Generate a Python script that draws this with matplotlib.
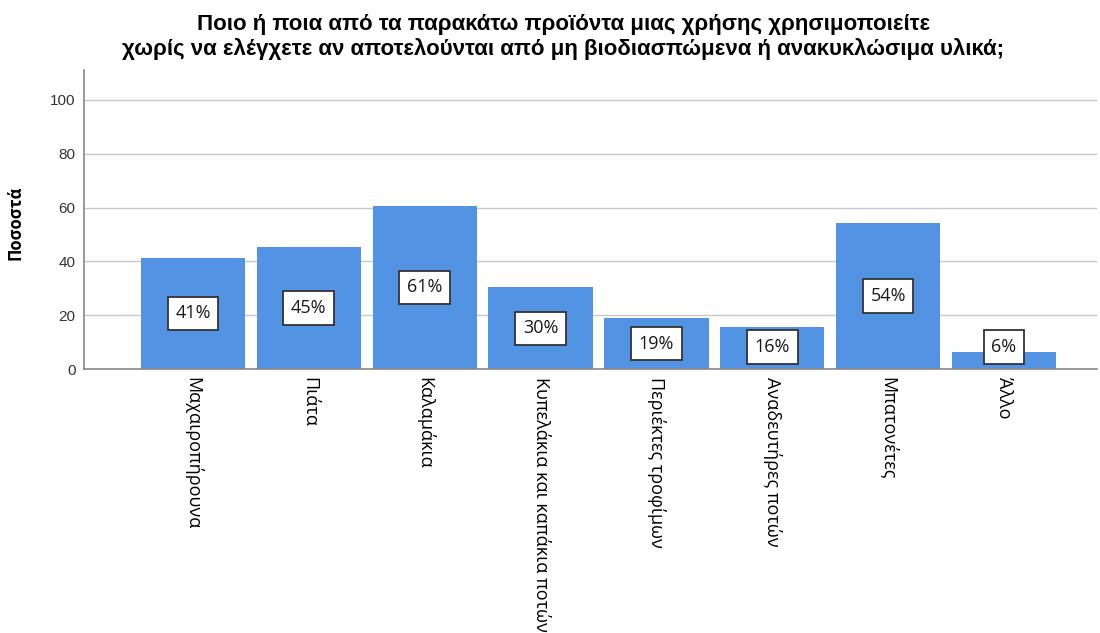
import numpy as np
import matplotlib
matplotlib.use("Agg")
import matplotlib.pyplot as plt

plt.rcParams['font.family'] = ['Open Sans', 'DejaVu Sans']

# Single-use products used without checking the material (percent of respondents)
categories = [
    "Μαχαιροπήρουνα",
    "Πιάτα",
    "Καλαμάκια",
    "Κυπελάκια και καπάκια ποτών",
    "Περιέκτες τροφίμων",
    "Αναδευτήρες ποτών",
    "Μπατονέτες",
    "Άλλο",
]
percent = [41.4, 45.3, 60.6, 30.4, 18.8, 15.7, 54.3, 6.3]
yticks = [0, 20, 40, 60, 80, 100]

title = ("Ποιο ή ποια από τα παρακάτω προϊόντα μιας χρήσης χρησιμοποιείτε\n"
         "χωρίς να ελέγχετε αν αποτελούνται από μη βιοδιασπώμενα ή ανακυκλώσιμα υλικά;")

fig = plt.figure(figsize=(11, 6.33), dpi=100)
ax = fig.add_axes([0.0764, 0.417, 0.9206, 0.472])

x = np.arange(len(categories))
ax.bar(x, percent, width=0.9, color="#5393E3", zorder=2)

for xi, v in zip(x, percent):
    ax.text(xi, max(v / 2, 8.2), "%.0f%%" % v, ha="center", va="center",
            fontsize=13, fontweight="medium", color="#1a1a1a", zorder=3,
            bbox=dict(boxstyle="square,pad=0.42", fc="white", ec="#333333", lw=1.3))

ax.set_xlim(-0.94, 7.8)
ax.set_ylim(0, 111)
ax.set_yticks(yticks)
ax.yaxis.grid(True, color="#c8c8c8", lw=1.0, zorder=0)
ax.set_axisbelow(True)
ax.tick_params(axis="both", length=0)
ax.tick_params(axis="y", labelsize=11, labelcolor="#333333", pad=6)
for lbl in ax.get_yticklabels():
    lbl.set_family(['Liberation Sans', 'DejaVu Sans'])

ax.set_xticks(x)
ax.set_xticklabels(categories, rotation=270, fontsize=13, va="top", ha="center")
ax.tick_params(axis="x", pad=6)

for side in ["top", "right"]:
    ax.spines[side].set_visible(False)
for side in ["left", "bottom"]:
    ax.spines[side].set_color("#888888")
    ax.spines[side].set_linewidth(1.2)

ax.set_ylabel("Ποσοστά", fontsize=12, fontweight="bold")
ax.yaxis.set_label_coords(-0.059, 0.49)

fig.text(0.512, 0.978, title, ha="center", va="top", fontsize=16,
         fontweight="bold", linespacing=1.2,
         family=['Liberation Sans Narrow', 'Liberation Sans', 'DejaVu Sans'])

fig.savefig("out.png", dpi=100)
